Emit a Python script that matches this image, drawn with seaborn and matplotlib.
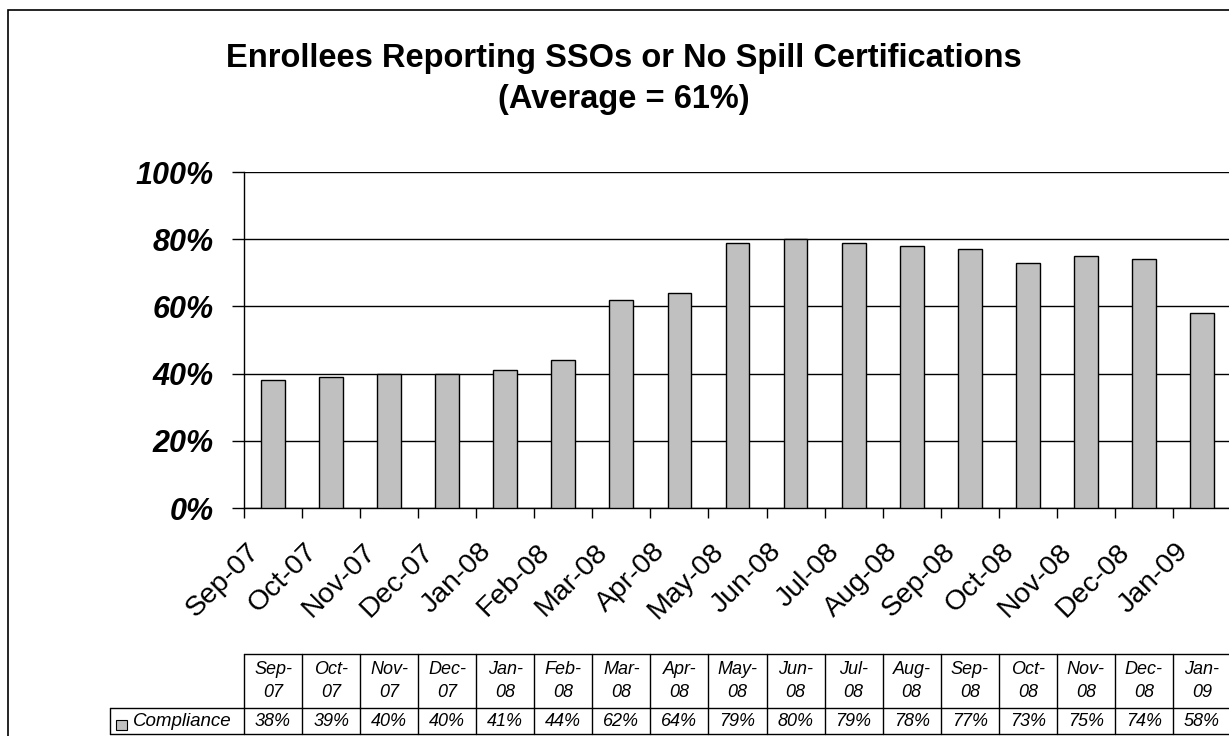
import matplotlib.pyplot as plt
import matplotlib.patches as mpatches
import matplotlib.transforms as mtransforms
import seaborn as sns
import numpy as np

months = ['Sep-07', 'Oct-07', 'Nov-07', 'Dec-07', 'Jan-08', 'Feb-08', 'Mar-08',
          'Apr-08', 'May-08', 'Jun-08', 'Jul-08', 'Aug-08', 'Sep-08', 'Oct-08',
          'Nov-08', 'Dec-08', 'Jan-09']
compliance = [38, 39, 40, 40, 41, 44, 62, 64, 79, 80, 79, 78, 77, 73, 75, 74, 58]
series_name = 'Compliance'
yticks = [0, 20, 40, 60, 80, 100]

bar_color = '#C0C0C0'

sns.set_style('white')
plt.rcParams['font.family'] = ['Liberation Sans', 'DejaVu Sans']
plt.rcParams['text.color'] = 'black'
plt.rcParams['xtick.color'] = 'black'
plt.rcParams['ytick.color'] = 'black'
plt.rcParams['xtick.labelcolor'] = 'black'
plt.rcParams['ytick.labelcolor'] = 'black'

fig = plt.figure(figsize=(12.29, 7.36), dpi=100)
W, H = 1229, 736
ax = fig.add_axes([244 / W, 1 - 508 / H, (1231 - 244) / W, (508 - 172) / H])

vals = [v / 100 for v in compliance]
sns.barplot(x=months, y=vals, color=bar_color, edgecolor='black', linewidth=1,
            width=0.41, saturation=1, ax=ax, zorder=3)

ax.set_xlim(-0.5, len(months) - 0.5)
ax.set_ylim(0, 1)
ax.set_yticks([t / 100 for t in yticks])
ax.set_yticklabels([f'{t}%' for t in yticks], fontsize=22, fontweight='bold',
                   style='italic')
ax.yaxis.grid(True, color='black', linewidth=1, zorder=0)
ax.set_axisbelow(True)
ax.tick_params(axis='y', length=8.6, width=1, color='black', pad=13, left=True)

# category boundary ticks
ax.set_xticks(np.arange(len(months) + 1) - 0.5, minor=True)
ax.tick_params(axis='x', which='minor', length=7, width=1, color='black', bottom=True)
ax.tick_params(axis='x', which='major', length=0, pad=22)
ax.set_xticklabels(months, rotation=45, ha='right', va='top',
                   rotation_mode='anchor', fontsize=20.5)
shift = mtransforms.ScaledTranslation(-27 / 100, 0, fig.dpi_scale_trans)
for lbl in ax.get_xticklabels():
    lbl.set_transform(lbl.get_transform() + shift)
ax.set_xlabel('')
ax.set_ylabel('')

for s in ['top', 'right']:
    ax.spines[s].set_visible(False)
for s in ['left', 'bottom']:
    ax.spines[s].set_color('black')
    ax.spines[s].set_linewidth(1)

# data table below the axis
tr = ax.get_xaxis_transform()
y_top = (508 - 654) / 336
y_mid = (508 - 708) / 336
y_bot = (508 - 734) / 336
x_lab = -0.5 - 134 / 58.06
n = len(months)
lk = dict(color='black', linewidth=1, transform=tr, clip_on=False)
ax.plot([-0.5, n - 0.5], [y_top, y_top], **lk)
ax.plot([x_lab, n - 0.5], [y_mid, y_mid], **lk)
ax.plot([x_lab, n - 0.5], [y_bot, y_bot], **lk)
ax.plot([x_lab, x_lab], [y_mid, y_bot], **lk)
for i in range(n + 1):
    ax.plot([i - 0.5, i - 0.5], [y_top, y_bot], **lk)
for i, (m, v) in enumerate(zip(months, compliance)):
    ax.text(i, (y_top + y_mid) / 2, m.replace('-', '-\n'), transform=tr,
            ha='center', va='center', fontsize=13, style='italic',
            linespacing=1.45)
    ax.text(i, (y_mid + y_bot) / 2, f'{v}%', transform=tr, ha='center',
            va='center', fontsize=13, style='italic')

# legend key + row label
sq_w = 11 / 58.06
ax.add_patch(mpatches.Rectangle((-0.5 - 128 / 58.06, (508 - 730) / 336),
                                sq_w, 10 / 336, transform=tr, clip_on=False,
                                facecolor=bar_color, edgecolor='black', linewidth=0.8))
ax.text(-0.5 - 111 / 58.06, (y_mid + y_bot) / 2, series_name, transform=tr,
        ha='left', va='center', fontsize=13.5, style='italic')

# title
fig.text(624 / W, 1 - 79 / H, 'Enrollees Reporting SSOs or No Spill Certifications\n(Average = 61%)',
         ha='center', va='center', fontsize=23.5, fontweight='bold', linespacing=1.38)

# outer chart frame
fig.patches.append(mpatches.Rectangle((8 / W, -0.1), 1.2, 1.1 - 10 / H,
                                      transform=fig.transFigure, fill=False,
                                      edgecolor='black', linewidth=1.2))

plt.savefig('out.png', dpi=100)
